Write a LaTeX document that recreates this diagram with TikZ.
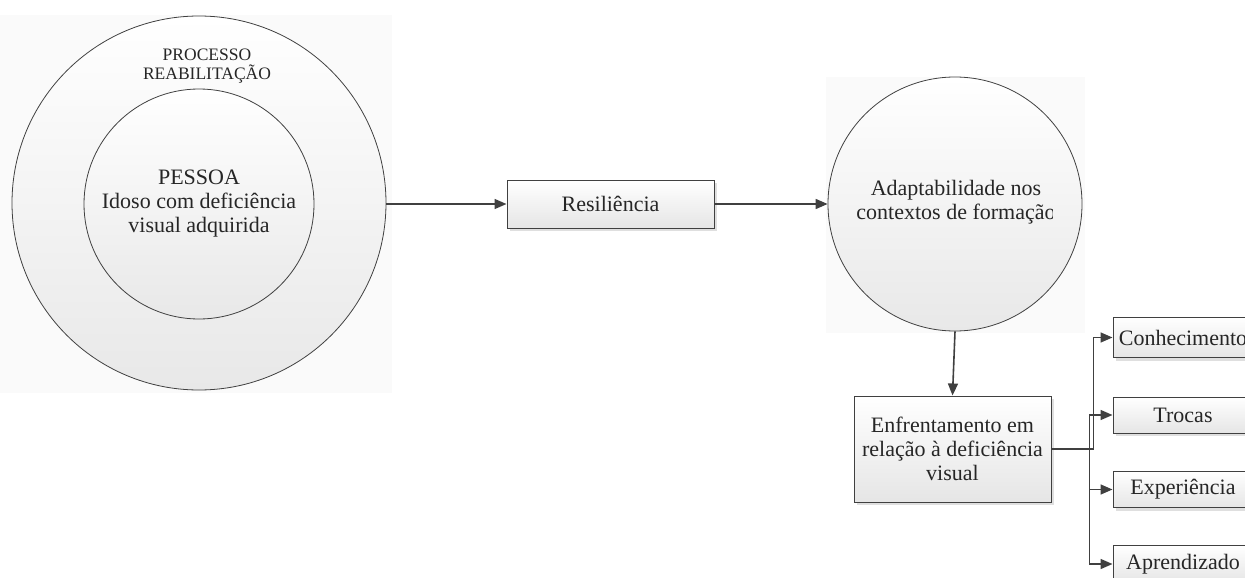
\documentclass[tikz,border=0pt]{standalone}
\usepackage{fontspec}
\setmainfont{Liberation Serif}
\usetikzlibrary{arrows.meta,calc,shadows}
\begin{document}
\begin{tikzpicture}[x=1pt,y=-1pt,
  txt/.style={text=black!85, font=\fontsize{22}{24}\selectfont, align=center},
  circ/.style={circle, draw=black!75, line width=0.8pt, top color=white, bottom color=black!9, inner sep=0pt},
  box/.style={rectangle, draw=black!75, line width=1pt, top color=white, bottom color=black!10, inner sep=0pt,
     drop shadow={opacity=0.25, shadow xshift=3pt, shadow yshift=-3pt}, txt},
  conn/.style={draw=black!75, line width=1.6pt, -{Triangle[length=12pt,width=10pt]}},
  faint/.style={fill=black!2}
]
\useasboundingbox (0,0) rectangle (1245,578);
% faint backgrounds
\fill[faint] (0,15) rectangle (392,393);
\fill[faint] (826,77) rectangle (1085,333);

% left circles
\node[circ, minimum size=374pt] (outer) at (199,203) {};
\node[txt, font=\fontsize{17.5}{18.5}\selectfont] (proc) at (207,66) {PROCESSO\\REABILITAÇÃO};
\node[circ, txt, minimum size=230pt] (inner) at (199,204) {PESSOA\\Idoso com deficiência\\visual adquirida};

% Resiliencia
\node[box, minimum width=207pt, minimum height=48pt] (res) at (610.5,204) {Resiliência};

% Adaptabilidade circle
\node[circ, minimum size=254pt] (adapt) at (955,204) {};
\begin{scope}
  \clip (0,0) rectangle (1052,578);
  \node[txt] (adtext) at (956,202.5) {Adaptabilidade nos\\contextos de formação};
\end{scope}

% Enfrentamento
\node[box, minimum width=197pt, minimum height=106pt] (enf) at (952.5,449) {Enfrentamento em\\relação à deficiência\\visual};

% right boxes
\node[box, minimum width=140pt, minimum height=40pt] (con) at (1183,337.5) {Conhecimento};
\node[box, minimum width=140pt, minimum height=36pt] (tro) at (1183,415) {Trocas};
\node[box, minimum width=140pt, minimum height=36pt] (exp) at (1183,489.5) {Experiência};
\node[box, minimum width=140pt, minimum height=37pt] (apr) at (1183,564) {Aprendizado};

% connectors
\draw[conn] (outer.east |- res.west) -- (res.west);
\draw[conn] (res.east) -- (adapt.west);
\draw[conn] (adapt.south) -- (enf.north);
\draw[conn] (enf.east) -- ++(42,0) |- (con.west);
\coordinate (split) at ($(enf.east)+(38,0)$);
\draw[conn] (split) |- (tro.west);
\draw[conn] (split) |- (exp.west);
\draw[conn] (split) |- (apr.west);
\end{tikzpicture}
\end{document}
